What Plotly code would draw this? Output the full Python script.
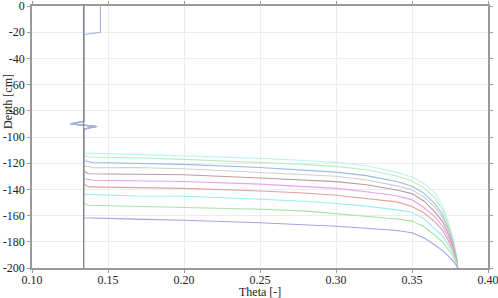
import plotly.graph_objects as go

# Initial profile (light blue)
init_theta = [0.145, 0.145, 0.134, 0.134, 0.125, 0.143, 0.134, 0.134]
init_depth = [0, -20, -22, -88, -90, -92, -94, -200]

# Dark gray profile at residual water content
base_theta = [0.134, 0.134]
base_depth = [0, -200]

# Common upper part of each later profile (zig-zag near -90 cm)
upper_theta = [0.134, 0.134, 0.126, 0.142, 0.134]
upper_depth = [0, -88, -90, -92, -94]

theta_pts = [0.168, 0.20, 0.25, 0.279, 0.30, 0.32, 0.34, 0.35, 0.358, 0.365,
             0.370, 0.374, 0.377, 0.3795, 0.380]

fronts_theta = [[0.134], [0.134, 0.137], [0.134, 0.140], [0.134, 0.140], [0.134, 0.137],
                [0.134, 0.140], [0.134, 0.137], [0.134], [0.134, 0.137], [0.134]]
fronts_depth = [[-112.3], [-113.6, -115.3], [-117.9, -119.5], [-121.7, -123.5], [-126.0, -128.0],
                [-131.8, -133.0], [-135.6, -138.1], [-143.7], [-150.3, -152.1], [-161.7]]

depth_c1 = [-113.3, -114.3, -116.3, -117.9, -119.4, -122.0, -127.0, -130.5, -135.5, -142.5, -152.0, -164.8, -177.0, -192.0, -200]
depth_c2 = [-115.8, -117.1, -119.3, -120.9, -122.4, -125.0, -129.8, -133.6, -139.0, -146.3, -155.1, -167.2, -178.6, -192.6, -200]
depth_c3 = [-120.4, -120.9, -123.3, -125.0, -126.8, -129.5, -134.0, -137.6, -143.0, -150.8, -158.9, -170.0, -180.5, -193.3, -200]
depth_c4 = [-123.3, -124.2, -127.0, -128.8, -130.0, -132.8, -137.3, -140.2, -146.0, -153.4, -161.3, -171.8, -181.7, -193.8, -200]
depth_c5 = [-128.5, -128.8, -131.3, -133.1, -134.1, -136.5, -140.5, -143.2, -149.0, -157.2, -164.4, -174.2, -183.3, -194.3, -200]
depth_c6 = [-133.3, -134.0, -136.0, -137.6, -139.2, -141.8, -144.8, -148.0, -154.0, -161.0, -167.9, -176.8, -185.0, -195.0, -200]
depth_c7 = [-138.9, -139.2, -141.2, -142.7, -144.5, -147.0, -149.5, -153.0, -158.0, -164.8, -171.0, -179.2, -186.6, -195.6, -200]
depth_c8 = [-145.0, -145.2, -147.5, -149.0, -150.8, -152.8, -155.6, -157.5, -162.5, -170.0, -175.5, -182.5, -188.9, -196.4, -200]
depth_c9 = [-152.9, -153.4, -155.2, -156.4, -158.4, -160.3, -162.6, -164.2, -168.5, -175.0, -180.0, -186.0, -191.2, -197.3, -200]
depth_c10 = [-162.7, -163.5, -165.5, -166.8, -168.1, -169.7, -171.4, -173.1, -177.0, -182.5, -186.5, -190.9, -194.5, -198.5, -200]

curve_depths = [depth_c1, depth_c2, depth_c3, depth_c4, depth_c5,
                depth_c6, depth_c7, depth_c8, depth_c9, depth_c10]
curve_colors = ['#bff3f3', '#bdebbd', '#96bce8', '#cfcfcf', '#bf9b9b',
                '#eca0ec', '#e3a0a0', '#97eded', '#a6e3a6', '#a3a3e3']

x_ticks = [0.10, 0.15, 0.20, 0.25, 0.30, 0.35, 0.40]
x_labels = ['0.10', '0.15', '0.20', '0.25', '0.30', '0.35', '0.40']
y_ticks = [0, -20, -40, -60, -80, -100, -120, -140, -160, -180, -200]
y_labels = ['0', '-20', '-40', '-60', '-80', '-100', '-120', '-140', '-160', '-180', '-200']

fig = go.Figure()
for i in range(len(curve_depths)):
    xs = upper_theta + fronts_theta[i] + theta_pts
    ys = upper_depth + fronts_depth[i] + curve_depths[i]
    fig.add_trace(go.Scatter(x=xs, y=ys, mode='lines',
                             line=dict(color=curve_colors[i], width=1.1),
                             showlegend=False, hoverinfo='skip'))
fig.add_trace(go.Scatter(x=init_theta, y=init_depth, mode='lines',
                         line=dict(color='#a3b3df', width=1.1), showlegend=False))
fig.add_trace(go.Scatter(x=base_theta, y=base_depth, mode='lines',
                         line=dict(color='#7c7c7c', width=1.1), showlegend=False))

font = dict(family='Liberation Serif', size=12, color='#222')
axis_common = dict(showgrid=True, gridcolor='#ececec', gridwidth=1,
                   showline=True, linecolor='#9a9a9a', linewidth=1.5, mirror='ticks',
                   ticks='outside', ticklen=3, tickcolor='#9a9a9a',
                   zeroline=False, automargin=False, ticklabeloverflow='allow')
fig.update_layout(
    width=498, height=298,
    margin=dict(l=32, r=10, t=6, b=30),
    paper_bgcolor='white', plot_bgcolor='white',
    font=font,
    xaxis=dict(range=[0.10, 0.40], tickvals=x_ticks, ticktext=x_labels,
               ticklabelstandoff=-3, **axis_common),
    yaxis=dict(range=[-200, 0], tickvals=y_ticks, ticktext=y_labels, **axis_common),
    annotations=[
        dict(text='Theta [-]', xref='paper', yref='paper', x=0.5, y=-24 / 262,
             xanchor='center', yanchor='middle', showarrow=False, font=font),
        dict(text='Depth [cm]', xref='paper', yref='paper', x=-24 / 456, y=1 - 96 / 262,
             xanchor='center', yanchor='middle', textangle=-90, showarrow=False, font=font),
    ],
)
fig.write_html('out.html', config={'displayModeBar': False},
               post_script="document.body.style.margin='0';document.body.style.padding='0';")
